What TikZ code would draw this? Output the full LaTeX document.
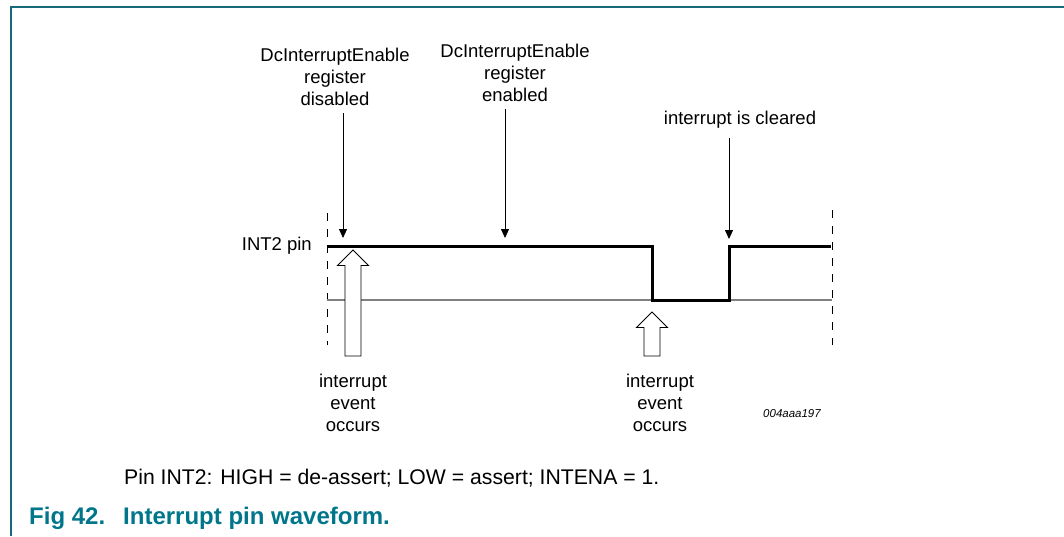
\documentclass[tikz,border=0pt]{standalone}
\usepackage{fontspec}
\setmainfont{Liberation Sans}
\usetikzlibrary{arrows.meta}
\definecolor{frameteal}{RGB}{25,105,125}
\definecolor{capteal}{RGB}{0,118,138}
\begin{document}
\begin{tikzpicture}[x=1pt,y=-1pt,
  lbl/.style={inner sep=0pt,align=center,font=\fontsize{18.5}{22}\selectfont},
  capt/.style={inner sep=0pt,anchor=west,font=\fontsize{21.2}{25}\selectfont},
  downarr/.style={line width=0.9pt,-{Triangle[length=9pt,width=8pt]}},
  hollow/.style={line width=0.9pt,fill=white,line join=miter},
  guide/.style={line width=0.9pt,dash pattern=on 8pt off 8pt},
  signal/.style={line width=3pt,line join=miter}]
\useasboundingbox (0,0) rectangle (1064,536);
% frame
\draw[frameteal,line width=1.6pt] (11,536) -- (11,7) -- (1064,7);
% guides
\coordinate (gl1) at (327,213); \coordinate (gl2) at (327,345);
\coordinate (gr1) at (832,210); \coordinate (gr2) at (832,345);
\draw[guide] (gl1) -- (gl2);
\draw[guide] (gr1) -- (gr2);
% baseline
\coordinate (b1) at (327,300); \coordinate (b2) at (832,300);
\draw[gray,line width=1.2pt] (b1) -- (b2);
% signal
\coordinate (s0) at (327,246); \coordinate (s1) at (652,246);
\coordinate (s2) at (652,300); \coordinate (s3) at (729,300);
\coordinate (s4) at (729,246); \coordinate (s5) at (831,246);
\draw[signal] (s0) -- (s1) -- (s2) -- (s3) -- (s4) -- (s5);
% labels
\node[lbl] (dis) at (335,77) {DcInterruptEnable\\register\\disabled};
\node[lbl] (ena) at (515,73) {DcInterruptEnable\\register\\enabled};
\node[lbl] (clr) at (740,120) {interrupt is cleared};
\node[lbl,anchor=east] (pin) at (312,246) {INT2 pin};
\node[lbl] (ev1) at (353,403) {interrupt\\event\\occurs};
\node[lbl] (ev2) at (660,403) {interrupt\\event\\occurs};
\node[inner sep=0pt,font=\fontsize{11.5}{14}\selectfont\itshape] (code) at (792,414) {004aaa197};
% down arrows
\coordinate (d1a) at (343,113); \coordinate (d1b) at (343,238);
\coordinate (d2a) at (505,109); \coordinate (d2b) at (505,238);
\coordinate (d3a) at (729,138); \coordinate (d3b) at (729,239);
\draw[downarr] (d1a) -- (d1b);
\draw[downarr] (d2a) -- (d2b);
\draw[downarr] (d3a) -- (d3b);
% hollow up arrows
\coordinate (u1) at (353,250);
\draw[hollow] (u1) -- ++(15.5,15.5) -- ++(-7.5,0) -- (361,356) -- (345,356) -- (345,265.5) -- ++(-7.5,0) -- cycle;
\coordinate (u2) at (652,312);
\draw[hollow] (u2) -- ++(15.5,15.5) -- ++(-7.5,0) -- (660,356) -- (644,356) -- (644,327.5) -- ++(-7.5,0) -- cycle;
% captions
\node[capt] (note) at (124,478) {Pin INT2: HIGH = de-assert; LOW = assert; INTENA = 1.};
\node[capt,text=capteal,font=\fontsize{24}{28}\selectfont\bfseries] (fig) at (29,518) {\makebox[94pt][l]{Fig 42.}Interrupt pin waveform.};
\end{tikzpicture}
\end{document}
